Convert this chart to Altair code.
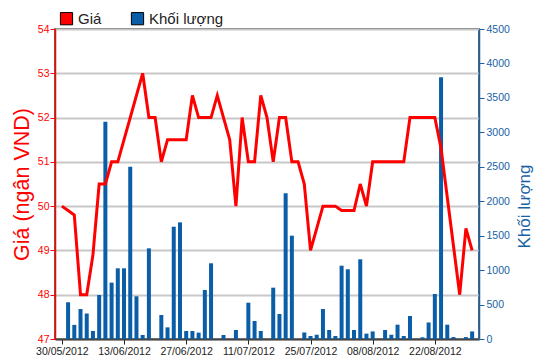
import altair as alt
import pandas as pd

# Trading-day index 0..66 ; tick labels every 10 sessions
tick_idx = [0, 10, 20, 30, 40, 50, 60]
tick_labels = ["30/05/2012", "13/06/2012", "27/06/2012", "11/07/2012",
               "25/07/2012", "08/08/2012", "22/08/2012"]

# Giá (ngàn VND)
price = [
    50.0, 49.9, 49.8, 48.0, 48.0, 48.9, 50.5, 50.5, 51.0, 51.0,
    51.5, 52.0, 52.5, 53.0, 52.0, 52.0, 51.0, 51.5, 51.5, 51.5,
    51.5, 52.5, 52.0, 52.0, 52.0, 52.5, 52.0, 51.5, 50.0, 52.0,
    51.0, 51.0, 52.5, 52.0, 51.0, 52.0, 52.0, 51.0, 51.0, 50.5,
    49.0, 49.5, 50.0, 50.0, 50.0, 49.9, 49.9, 49.9, 50.5, 50.0,
    51.0, 51.0, 51.0, 51.0, 51.0, 51.0, 52.0, 52.0, 52.0, 52.0,
    52.0, 51.3, 50.2, 49.1, 48.0, 49.5, 49.0,
]

# Khối lượng
volume = [
    0, 533, 205, 435, 370, 116, 639, 3155, 818, 1026,
    1026, 2501, 620, 58, 1316, 0, 348, 169, 1630, 1693,
    116, 116, 92, 711, 1099, 0, 58, 0, 131, 0,
    527, 261, 116, 0, 745, 363, 2115, 1500, 0, 95,
    44, 62, 435, 131, 44, 1064, 1012, 131, 1157, 78,
    110, 0, 131, 62, 208, 44, 334, 0, 25, 240,
    653, 3800, 208, 28, 0, 28, 110,
]

series_names = ["Giá", "Khối lượng"]
series_colors = ["#ff0000", "#0a5ea8"]

df = pd.DataFrame({
    "i": list(range(len(price))),
    "price": price,
    "volume": volume,
    "series": "Khối lượng",
})

FONT = "Liberation Sans"
RED = "#ff0000"
BLUE_AX = "#1862a4"

label_expr = "[" + ",".join(f"'{t}'" for t in tick_labels) + "][round(datum.value/10)]"

x_enc = alt.X(
    "i:Q",
    scale=alt.Scale(domain=[-0.3, 66.3], nice=False, zero=False),
    axis=alt.Axis(
        values=tick_idx, labelExpr=label_expr, title=None, grid=False,
        domainColor="#444444", domainWidth=2, tickColor="#222222", tickSize=5,
        labelColor="#222222", labelFontSize=10.5, labelFont=FONT,
        labelPadding=2, labelFlush=False,
    ),
)

bars = alt.Chart(df).mark_bar(size=4).encode(
    x=x_enc,
    y=alt.Y(
        "volume:Q",
        scale=alt.Scale(domain=[0, 4500], nice=False),
        axis=alt.Axis(
            orient="right", values=list(range(0, 4501, 500)), format="d",
            title="Khối lượng", grid=False,
            domainColor=BLUE_AX, domainWidth=1.5, tickColor=BLUE_AX, tickSize=5,
            labelColor=BLUE_AX, labelFontSize=10.5, labelFont=FONT, labelPadding=2,
            titleColor=BLUE_AX, titleFontSize=17, titleFont=FONT,
            titleFontWeight="normal", titleAngle=270, titleBaseline="top",
            titlePadding=7, titleY=177,
        ),
    ),
    color=alt.Color(
        "series:N",
        scale=alt.Scale(domain=series_names, range=series_colors),
        title=None,
        legend=alt.Legend(
            orient="none", legendX=4, legendY=-18, direction="horizontal",
            symbolType="square", symbolSize=150, symbolStrokeColor="#000000",
            symbolStrokeWidth=1, symbolOpacity=1,
            labelFont=FONT, labelFontSize=15, labelColor="#222222",
            labelOffset=4, columnPadding=27,
        ),
    ),
)

line = alt.Chart(df).mark_line(color=RED, strokeWidth=3).encode(
    x=x_enc,
    y=alt.Y(
        "price:Q",
        scale=alt.Scale(domain=[47, 54], nice=False, zero=False),
        axis=alt.Axis(
            orient="left", values=list(range(47, 55)),
            title="Giá (ngân VND)", grid=True, gridColor="#c8c8c8", gridWidth=2,
            domainColor=RED, domainWidth=1.5, tickColor=RED, tickSize=5,
            labelColor=RED, labelFontSize=10.5, labelFont=FONT, labelPadding=1,
            titleColor=RED, titleFontSize=21.5, titleFont=FONT,
            titleFontWeight="normal", titlePadding=4,
        ),
    ),
)

chart = (
    alt.layer(bars, line)
    .resolve_scale(y="independent")
    .properties(
        width=424, height=310,
        autosize=alt.AutoSizeParams(type="none"),
        padding={"left": 47, "top": 21, "right": 63, "bottom": 25},
    )
    .configure_view(stroke="#333333", strokeWidth=1.5)
)

chart.save("out.html", embed_options={"renderer": "svg", "actions": False})
